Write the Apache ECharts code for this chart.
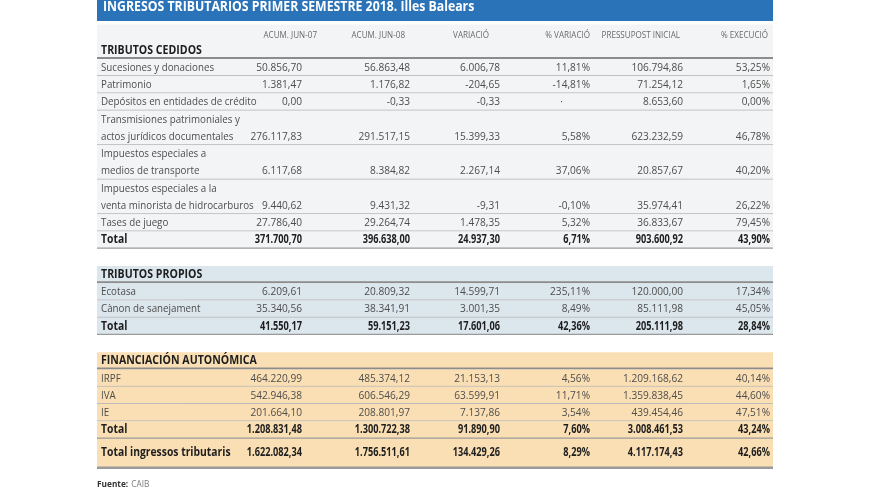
<!DOCTYPE html>
<html><head><meta charset="utf-8">
<script src="https://cdn.jsdelivr.net/npm/echarts@6/dist/echarts.min.js"></script>
<style>html,body{margin:0;background:#fff}#c{width:880px;height:495px}</style></head>
<body><div id="c"></div><script>
// ---- data ----
const title = 'INGRESOS TRIBUTARIOS PRIMER SEMESTRE 2018. Illes Balears';
const sourceLabel = 'Fuente:';
const sourceText = 'CAIB';
const headers = ['ACUM. JUN-07', 'ACUM. JUN-08', 'VARIACIÓ', '% VARIACIÓ', 'PRESSUPOST INICIAL', '% EXECUCIÓ'];
const sections = ['TRIBUTOS CEDIDOS', 'TRIBUTOS PROPIOS', 'FINANCIACIÓN AUTONÓMICA'];
const labels = [
  'Sucesiones y donaciones', 'Patrimonio', 'Depósitos en entidades de crédito',
  'Transmisiones patrimoniales y\nactos jurídicos documentales',
  'Impuestos especiales a\nmedios de transporte',
  'Impuestos especiales a la\nventa minorista de hidrocarburos',
  'Tases de juego', 'Total',
  'Ecotasa', 'Cànon de sanejament', 'Total',
  'IRPF', 'IVA', 'IE', 'Total',
  'Total ingressos tributaris'
];
const rowSection = [0,0,0,0,0,0,0,0, 1,1,1, 2,2,2,2,2];
const rowKind = ['item','item','item','item','item','item','item','total',
                 'item','item','total',
                 'item','item','item','total','grand'];
const acumJun07 = [50856.70, 1381.47, 0.00, 276117.83, 6117.68, 9440.62, 27786.40, 371700.70,
                   6209.61, 35340.56, 41550.17,
                   464220.99, 542946.38, 201664.10, 1208831.48, 1622082.34];
const acumJun08 = [56863.48, 1176.82, -0.33, 291517.15, 8384.82, 9431.32, 29264.74, 396638.00,
                   20809.32, 38341.91, 59151.23,
                   485374.12, 606546.29, 208801.97, 1300722.38, 1756511.61];
const variacio = [6006.78, -204.65, -0.33, 15399.33, 2267.14, -9.31, 1478.35, 24937.30,
                  14599.71, 3001.35, 17601.06,
                  21153.13, 63599.91, 7137.86, 91890.90, 134429.26];
const pctVariacio = [11.81, -14.81, null, 5.58, 37.06, -0.10, 5.32, 6.71,
                     235.11, 8.49, 42.36,
                     4.56, 11.71, 3.54, 7.60, 8.29];
const pressupost = [106794.86, 71254.12, 8653.60, 623232.59, 20857.67, 35974.41, 36833.67, 903600.92,
                    120000.00, 85111.98, 205111.98,
                    1209168.62, 1359838.45, 439454.46, 3008461.53, 4117174.43];
const pctExecucio = [53.25, 1.65, 0.00, 46.78, 40.20, 26.22, 79.45, 43.90,
                     17.34, 45.05, 28.84,
                     40.14, 44.60, 47.51, 43.24, 42.66];

// ---- layout / style ----
const FONT = '"Open Sans", "Noto Sans", sans-serif';
const tableLeft = 97, tableRight = 773;
const labelX = 101;
const colRight = [302, 410, 500, 590, 683, 770];
const headRight = [317, 405, 489, 590, 680, 768];
const sectionBg = ['#f3f4f5', '#dbe6ed', '#fbdfb4'];

function fmt(v) {
  if (v === null || v === undefined) return '·';
  const neg = v < 0;
  const parts = Math.abs(v).toFixed(2).split('.');
  const int = parts[0].replace(/\B(?=(\d{3})+(?!\d))/g, '.');
  return (neg ? '-' : '') + int + ',' + parts[1];
}
function pct(v) { return v === null ? '·' : fmt(v) + '%'; }

// build table lines
const lines = [{ type: 'header', s: 0, h: 1 }];
sections.forEach((name, s) => {
  if (s > 0) lines.push({ type: 'blank', s: s, h: 1 });
  lines.push({ type: 'section', s: s, h: 1 });
  labels.forEach((lab, i) => {
    if (rowSection[i] !== s) return;
    const kind = rowKind[i];
    const h = kind === 'grand' ? 1.75 : lab.split('\n').length;
    lines.push({ type: kind, s: s, row: i, h: h });
  });
});
let acc = 0;
lines.forEach(L => { L.start = acc; acc += L.h; });
const totalSlots = acc;
const slotPx = 17.26;

const columns = [acumJun07, acumJun08, variacio, pctVariacio, pressupost, pctExecucio];

function txt(text, x, y, align, size, weight, color, sx) {
  return {
    type: 'text', x: x, y: y, scaleX: sx || 1, scaleY: 1,
    style: { text: text, x: 0, y: 0, align: align, verticalAlign: 'middle',
             fontSize: size, fontWeight: weight, fontFamily: FONT, fill: color }
  };
}

function renderItem(params, api) {
  const L = lines[api.value(2)];
  const y0 = api.coord([0, L.start])[1];
  const y1 = api.coord([0, L.start + L.h])[1];
  const x0 = api.coord([tableLeft, 0])[0];
  const x1 = api.coord([tableRight, 0])[0];
  const unit = api.size([0, 1])[1];
  const lx = api.coord([labelX, 0])[0];
  const ch = [];
  const bg = L.type === 'blank' ? '#ffffff' : sectionBg[L.s];
  ch.push({ type: 'rect', shape: { x: x0, y: y0, width: x1 - x0, height: y1 - y0 }, style: { fill: bg } });

  if (L.type === 'header') {
    headers.forEach((h, c) => {
      ch.push(txt(h, api.coord([headRight[c], 0])[0], y0 + unit * 0.62, 'right', 8.5, 'normal', '#6a6a6a', 0.95));
    });
  } else if (L.type === 'section') {
    ch.push(txt(sections[L.s], lx, y0 + unit / 2, 'left', 11.5, 'bold', '#1e1e1e', 0.92));
    ch.push({ type: 'line', shape: { x1: x0, y1: y1 - 1, x2: x1, y2: y1 - 1 }, style: { stroke: '#8c8c8c', lineWidth: 2 } });
  } else if (L.type !== 'blank') {
    const bold = L.type !== 'item';
    const color = bold ? '#1e1e1e' : '#4d4d4d';
    const size = 11.5;
    const weight = bold ? 'bold' : 'normal';
    const labScale = bold ? 0.9 : 0.85;
    const numScale = bold ? 0.8 : 0.88;
    const labLines = labels[L.row].split('\n');
    let valY;
    if (L.type === 'grand') {
      valY = y0 + unit * 0.83;
      ch.push(txt(labLines[0], lx, valY, 'left', size, weight, color, labScale));
    } else {
      labLines.forEach((t, k) => {
        ch.push(txt(t, lx, y0 + unit * (k + 0.5), 'left', size, weight, color, labScale));
      });
      valY = y0 + unit * (labLines.length - 0.5);
    }
    columns.forEach((col, c) => {
      const v = col[L.row];
      const s = (c === 3 || c === 5) ? pct(v) : fmt(v);
      const x = (v === null) ? api.coord([colRight[c] - 27, 0])[0] : api.coord([colRight[c], 0])[0];
      ch.push(txt(s, x, valY, 'right', size, weight, color, numScale));
    });
    if (L.type === 'grand') {
      ch.push({ type: 'line', shape: { x1: x0, y1: y1 - 1, x2: x1, y2: y1 - 1 }, style: { stroke: '#9a9a9a', lineWidth: 2.5 } });
    } else {
      ch.push({ type: 'line', shape: { x1: x0, y1: y1 - 0.5, x2: x1, y2: y1 - 0.5 },
        style: { stroke: L.type === 'total' ? '#9a9a9a' : '#b8b8b8', lineWidth: L.type === 'total' ? 1.5 : 1 } });
    }
  }
  return { type: 'group', children: ch };
}

const chart = echarts.init(document.getElementById('c'), null, { renderer: 'canvas' });
chart.setOption({
  animation: false,
  backgroundColor: '#ffffff',
  grid: { left: 0, width: 880, top: 24.4, height: totalSlots * slotPx },
  xAxis: { type: 'value', min: 0, max: 880, show: false },
  yAxis: { type: 'value', min: 0, max: totalSlots, inverse: true, show: false },
  graphic: [
    { type: 'rect', shape: { x: tableLeft, y: 0, width: tableRight - tableLeft, height: 21 }, style: { fill: '#2b73b8' } },
    { type: 'text', x: 103, y: 7, scaleX: 0.91, style: { text: title, x: 0, y: 0, verticalAlign: 'middle', fontSize: 13.5, fontWeight: 'bold', fontFamily: FONT, fill: '#ffffff' } },
    { type: 'text', x: 97, y: 484, scaleX: 0.92, style: {
        text: '{b|' + sourceLabel + '} {n|' + sourceText + '}', x: 0, y: 0, verticalAlign: 'middle',
        rich: { b: { fontSize: 9, fontWeight: 'bold', fontFamily: FONT, fill: '#333333' },
                n: { fontSize: 9, fontFamily: FONT, fill: '#7a7a7a' } } } }
  ],
  series: [{
    type: 'custom',
    renderItem: renderItem,
    clip: false,
    encode: { x: 0, y: 1 },
    data: lines.map((L, i) => [0, L.start, i])
  }]
});
</script></body></html>
